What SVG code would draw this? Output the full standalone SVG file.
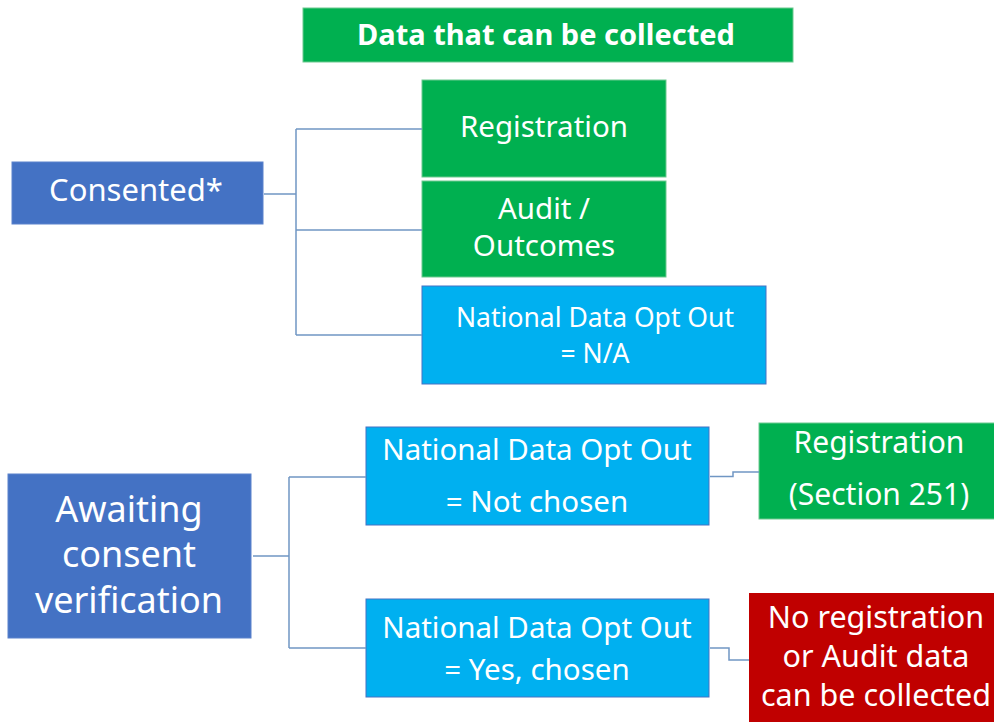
<svg xmlns="http://www.w3.org/2000/svg" width="994" height="722" viewBox="0 0 994 722">
<style>
text{font-family:"Noto Sans","Open Sans",sans-serif;fill:#fff;text-anchor:middle}
.blue{fill:#4472C4;stroke:#5B82CC;stroke-width:1}
.green{fill:#00B050;stroke:#6CC98F;stroke-width:1}
.light{fill:#00B0F0;stroke:#4472C4;stroke-width:1}
.red{fill:#C00000}
.conn{fill:none;stroke:#7096C4;stroke-width:1.5}
</style>
<rect width="994" height="722" fill="#fff"/>
<g id="title"><rect x="303" y="8" width="490" height="54" class="green"/><text x="546" y="45" font-size="29" font-weight="bold">Data that can be collected</text></g>
<g id="consented"><rect x="12" y="162" width="251" height="62" class="blue"/><text x="136" y="201" font-size="31">Consented*</text></g>
<g id="registration"><rect x="422" y="80" width="244" height="97" class="green"/><text x="544" y="137" font-size="29.5">Registration</text></g>
<g id="audit"><rect x="422" y="181" width="244" height="96" class="green"/><text x="544" y="219" font-size="29.5">Audit /</text><text x="544" y="256" font-size="29.5">Outcomes</text></g>
<g id="ndoo-na"><rect x="422" y="286" width="344" height="98" class="light"/><text x="595" y="327" font-size="26.5">National Data Opt Out</text><text x="595" y="363" font-size="26.5">= N/A</text></g>
<g id="awaiting"><rect x="8" y="474" width="243" height="164" class="blue"/><text x="129" y="522" font-size="36">Awaiting</text><text x="129" y="567" font-size="36">consent</text><text x="129" y="613" font-size="36">verification</text></g>
<g id="ndoo-not"><rect x="366" y="427" width="343" height="98" class="light"/><text x="537" y="460" font-size="29.5">National Data Opt Out</text><text x="537" y="512" font-size="29.5">= Not chosen</text></g>
<g id="ndoo-yes"><rect x="366" y="599" width="343" height="98" class="light"/><text x="537" y="638" font-size="29.5">National Data Opt Out</text><text x="537" y="680" font-size="29.5">= Yes, chosen</text></g>
<g id="reg251"><rect x="759" y="423" width="240" height="96" class="green"/><text x="879" y="453" font-size="30">Registration</text><text x="879" y="505" font-size="30">(Section 251)</text></g>
<g id="none"><rect x="749" y="593" width="250" height="135" class="red"/><text x="876" y="628" font-size="30.5">No registration</text><text x="876" y="667" font-size="30.5">or Audit data</text><text x="876" y="706" font-size="30.5">can be collected</text></g>
<g id="connectors">
<path class="conn" d="M264 194H296M296 129V335M296 129H422M296 230H422M296 335H422"/>
<path class="conn" d="M253 556H289M289 477V648M289 477H366M289 648H366"/>
<path class="conn" d="M710 476.5H733V472H759"/>
<path class="conn" d="M710 648H729V660H749"/>
</g>
</svg>
